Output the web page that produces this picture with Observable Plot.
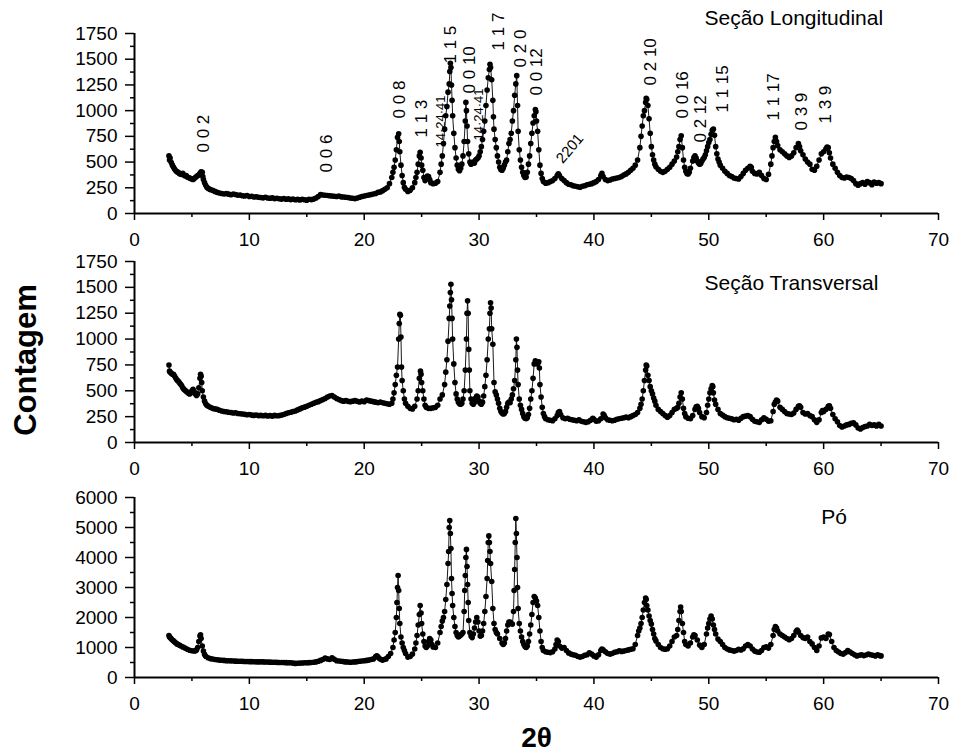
<!DOCTYPE html>
<html><head><meta charset="utf-8">
<script src="https://cdn.jsdelivr.net/npm/d3@7"></script>
<script src="https://cdn.jsdelivr.net/npm/@observablehq/plot@0.6"></script>
<style>
body{margin:0;background:#fff;}
#chart{position:relative;width:953px;height:755px;font-family:Arial,"Liberation Sans",sans-serif;}
#chart svg{position:absolute;left:0;overflow:visible;}
</style></head><body><div id="chart"></div>
<script>
// ---- tick values ----
const xTicks = [0,10,20,30,40,50,60,70];
const xMinor = [5,15,25,35,45,55,65];
const yTicksSec = [0,250,500,750,1000,1250,1500,1750];
const yMinorSec = [125,375,625,875,1125,1375,1625];
const yTicksPo = [0,1000,2000,3000,4000,5000,6000];
const yMinorPo = [500,1500,2500,3500,4500,5500];

// ---- panel titles ----
const titles = ["Seção Longitudinal","Seção Transversal","Pó"];

// ---- hkl labels (panel 1) ----
const hklText = ["0 0 2","0 0 6","0 0 8","1 1 3","1 1 5","0 0 10","1 1 7","0 2 0","0 0 12","0 2 10","0 0 16","0 2 12","1 1 15","1 1 17","0 3 9","1 3 9"];
const hklX    = [6.04,16.7,23.1,24.96,27.5,29.2,31.7,33.6,35.0,44.9,47.7,49.3,51.2,55.65,58.1,60.2];
const hklY    = [593,399,924,739,1458,1167,1585,1420,1147,1245,924,690,982,904,807,875];
const smallText = ["14·24·41","14·24·41"];
const smallX = [26.7,30.0];
const smallY = [642,710];
const diagText = ["2201"];
const diagX = [37.9];
const diagY = [632];

// ---- data: [2θ, contagem] ----
const longitudinal = [[3.0,560],[3.05,520],[3.1,540],[3.2,495],[3.3,470],[3.4,450],[3.5,430],[3.6,415],[3.7,405],[3.8,400],[3.9,390],[4.0,385],[4.1,380],[4.2,390],[4.3,375],[4.4,365],[4.5,370],[4.6,355],[4.7,350],[4.8,345],[4.9,340],[5.0,335],[5.1,330],[5.2,340],[5.3,350],[5.4,360],[5.5,370],[5.6,375],[5.7,390],[5.8,405],[5.9,400],[5.95,360],[6.0,330],[6.1,300],[6.2,275],[6.3,255],[6.4,245],[6.5,238],[6.6,232],[6.8,225],[7.0,215],[7.2,205],[7.4,200],[7.6,195],[7.8,190],[8.0,195],[8.2,188],[8.4,182],[8.6,190],[8.8,185],[9.0,178],[9.2,180],[9.4,172],[9.6,170],[9.8,175],[10.0,165],[10.2,168],[10.4,160],[10.6,163],[10.8,158],[11.0,155],[11.2,152],[11.4,158],[11.6,150],[11.8,148],[12.0,152],[12.2,145],[12.4,148],[12.6,143],[12.8,140],[13.0,146],[13.2,138],[13.4,142],[13.6,135],[13.8,140],[14.0,133],[14.2,137],[14.4,132],[14.6,138],[14.8,134],[15.0,130],[15.2,138],[15.4,135],[15.6,140],[15.8,150],[16.0,165],[16.2,185],[16.4,180],[16.6,178],[16.8,175],[17.0,172],[17.2,170],[17.4,168],[17.6,165],[17.8,170],[18.0,162],[18.2,160],[18.4,158],[18.6,155],[18.8,150],[19.0,148],[19.2,145],[19.4,150],[19.6,158],[19.8,165],[20.0,170],[20.2,175],[20.4,180],[20.6,185],[20.8,190],[21.0,195],[21.2,205],[21.4,210],[21.6,222],[21.8,235],[22.0,250],[22.2,290],[22.4,350],[22.5,400],[22.6,450],[22.7,520],[22.8,620],[22.9,740],[23.0,775],[23.05,700],[23.1,600],[23.2,470],[23.3,370],[23.4,300],[23.5,255],[23.6,235],[23.8,215],[24.0,225],[24.2,250],[24.4,300],[24.5,350],[24.6,400],[24.7,480],[24.8,560],[24.87,595],[24.95,540],[25.0,470],[25.1,420],[25.2,350],[25.3,320],[25.4,340],[25.5,365],[25.6,360],[25.7,330],[25.8,300],[26.0,290],[26.2,295],[26.4,310],[26.6,400],[26.7,480],[26.8,560],[26.9,680],[27.0,820],[27.1,950],[27.2,1040],[27.3,1180],[27.4,1260],[27.45,1380],[27.5,1460],[27.55,1420],[27.6,1250],[27.65,1100],[27.7,950],[27.8,780],[27.9,640],[28.0,540],[28.1,470],[28.2,430],[28.3,415],[28.4,440],[28.5,480],[28.6,560],[28.7,700],[28.8,900],[28.85,1080],[28.9,1000],[28.95,850],[29.0,700],[29.1,580],[29.2,500],[29.3,480],[29.4,495],[29.5,500],[29.6,490],[29.7,520],[29.8,530],[29.9,540],[30.0,560],[30.1,600],[30.2,650],[30.3,720],[30.4,800],[30.5,900],[30.6,1050],[30.7,1200],[30.8,1320],[30.9,1400],[30.95,1450],[31.0,1420],[31.1,1300],[31.2,1100],[31.25,940],[31.3,820],[31.4,720],[31.5,640],[31.6,560],[31.7,500],[31.8,450],[31.9,425],[32.0,420],[32.1,440],[32.2,470],[32.3,500],[32.4,520],[32.5,600],[32.6,680],[32.7,720],[32.8,780],[32.9,900],[33.0,1000],[33.1,1150],[33.2,1260],[33.28,1340],[33.35,1050],[33.4,800],[33.5,620],[33.6,520],[33.7,450],[33.8,400],[33.9,370],[34.0,350],[34.1,355],[34.2,400],[34.3,480],[34.4,560],[34.5,680],[34.6,780],[34.7,880],[34.8,950],[34.9,1010],[34.95,990],[35.0,900],[35.1,800],[35.2,620],[35.3,470],[35.4,390],[35.5,340],[35.6,310],[35.8,295],[36.0,300],[36.2,310],[36.4,320],[36.6,340],[36.8,370],[36.9,385],[37.0,370],[37.2,340],[37.4,320],[37.6,300],[37.8,285],[38.0,280],[38.2,270],[38.4,265],[38.6,260],[38.8,255],[39.0,265],[39.2,270],[39.4,280],[39.6,285],[39.8,290],[40.0,300],[40.2,310],[40.4,330],[40.6,370],[40.7,390],[40.8,360],[41.0,330],[41.2,320],[41.4,325],[41.6,335],[41.8,340],[42.0,345],[42.2,350],[42.4,360],[42.6,375],[42.8,385],[43.0,400],[43.2,420],[43.4,440],[43.6,470],[43.8,520],[44.0,640],[44.1,750],[44.2,850],[44.3,950],[44.4,1000],[44.5,1080],[44.55,1120],[44.6,1110],[44.7,1050],[44.8,920],[44.9,780],[45.0,650],[45.1,570],[45.2,520],[45.3,480],[45.4,455],[45.6,430],[45.8,410],[46.0,400],[46.2,410],[46.4,430],[46.6,450],[46.8,480],[47.0,510],[47.2,550],[47.3,600],[47.4,650],[47.5,720],[47.6,755],[47.7,640],[47.8,520],[47.9,450],[48.0,410],[48.1,390],[48.2,385],[48.3,400],[48.4,440],[48.6,510],[48.7,545],[48.8,560],[48.9,540],[49.0,510],[49.1,490],[49.2,480],[49.3,485],[49.4,510],[49.5,530],[49.6,545],[49.7,570],[49.8,610],[49.9,650],[50.0,690],[50.1,720],[50.2,770],[50.3,810],[50.4,820],[50.5,760],[50.6,650],[50.7,580],[50.8,530],[50.9,500],[51.0,470],[51.2,440],[51.4,410],[51.6,390],[51.8,370],[52.0,360],[52.2,345],[52.4,340],[52.6,335],[52.8,360],[53.0,390],[53.2,420],[53.4,440],[53.6,460],[53.7,450],[53.8,410],[54.0,390],[54.2,385],[54.4,400],[54.6,370],[54.8,340],[55.0,330],[55.2,380],[55.4,480],[55.5,560],[55.6,640],[55.7,700],[55.8,740],[55.9,700],[56.0,660],[56.2,620],[56.4,600],[56.6,580],[56.8,560],[57.0,545],[57.2,560],[57.4,590],[57.6,640],[57.8,680],[57.9,650],[58.0,610],[58.2,570],[58.4,530],[58.6,500],[58.8,480],[59.0,430],[59.2,420],[59.4,460],[59.6,520],[59.8,580],[60.0,600],[60.2,630],[60.3,645],[60.4,640],[60.5,590],[60.6,540],[60.8,480],[61.0,440],[61.2,400],[61.4,370],[61.6,350],[61.8,345],[62.0,355],[62.2,350],[62.4,340],[62.6,320],[62.8,290],[63.0,275],[63.2,290],[63.4,300],[63.6,285],[63.8,310],[64.0,300],[64.2,280],[64.4,305],[64.6,295],[64.8,300],[65.0,290]];

const transversal = [[3.0,750],[3.05,690],[3.1,680],[3.2,670],[3.3,660],[3.4,660],[3.5,640],[3.6,620],[3.7,605],[3.8,595],[3.9,580],[4.0,565],[4.1,550],[4.2,530],[4.3,515],[4.4,505],[4.5,495],[4.6,485],[4.7,475],[4.8,470],[4.9,480],[5.0,500],[5.1,515],[5.2,490],[5.3,470],[5.4,455],[5.5,470],[5.6,530],[5.7,620],[5.75,660],[5.8,640],[5.85,580],[5.9,500],[6.0,440],[6.1,400],[6.2,375],[6.3,360],[6.4,352],[6.6,340],[6.8,330],[7.0,325],[7.2,320],[7.4,312],[7.6,305],[7.8,300],[8.0,298],[8.2,292],[8.4,290],[8.6,285],[8.8,288],[9.0,280],[9.2,278],[9.4,275],[9.6,272],[9.8,268],[10.0,270],[10.2,265],[10.4,262],[10.6,266],[10.8,260],[11.0,262],[11.2,258],[11.4,262],[11.6,256],[11.8,260],[12.0,255],[12.2,262],[12.4,258],[12.6,260],[12.8,265],[13.0,270],[13.2,280],[13.4,288],[13.6,292],[13.8,300],[14.0,305],[14.2,315],[14.4,325],[14.6,335],[14.8,342],[15.0,350],[15.2,360],[15.4,370],[15.6,380],[15.8,388],[16.0,395],[16.2,405],[16.4,415],[16.6,425],[16.8,440],[17.0,450],[17.2,455],[17.4,440],[17.6,425],[17.8,415],[18.0,405],[18.2,400],[18.4,405],[18.6,398],[18.8,395],[19.0,400],[19.2,405],[19.4,398],[19.6,392],[19.8,400],[20.0,395],[20.2,410],[20.4,405],[20.6,400],[20.8,395],[21.0,390],[21.2,385],[21.4,390],[21.6,385],[21.8,380],[22.0,375],[22.2,370],[22.4,380],[22.5,420],[22.6,480],[22.7,560],[22.8,650],[22.9,730],[23.0,1000],[23.05,1150],[23.1,1240],[23.15,1230],[23.2,1020],[23.25,730],[23.3,600],[23.4,500],[23.5,420],[23.6,380],[23.8,350],[24.0,330],[24.2,325],[24.4,350],[24.6,420],[24.7,500],[24.8,620],[24.9,690],[24.95,660],[25.0,580],[25.1,500],[25.2,420],[25.3,360],[25.4,340],[25.6,330],[25.8,330],[26.0,335],[26.2,340],[26.4,360],[26.6,420],[26.8,460],[27.0,560],[27.1,680],[27.2,800],[27.3,980],[27.4,1200],[27.45,1320],[27.5,1450],[27.55,1530],[27.6,1380],[27.65,1200],[27.7,1000],[27.8,760],[27.9,580],[28.0,470],[28.1,420],[28.2,390],[28.3,375],[28.4,370],[28.5,380],[28.6,420],[28.7,500],[28.8,700],[28.9,1000],[28.95,1250],[29.0,1370],[29.05,1250],[29.1,900],[29.15,700],[29.2,500],[29.3,420],[29.4,380],[29.5,370],[29.6,390],[29.7,430],[29.8,450],[29.9,440],[30.0,400],[30.1,380],[30.2,370],[30.3,390],[30.4,450],[30.5,540],[30.6,650],[30.7,800],[30.8,1000],[30.9,1100],[30.95,1250],[31.0,1350],[31.05,1300],[31.1,1100],[31.2,950],[31.3,580],[31.4,490],[31.5,460],[31.6,420],[31.7,380],[31.8,330],[31.9,300],[32.0,285],[32.1,275],[32.2,280],[32.3,300],[32.4,340],[32.5,380],[32.6,390],[32.7,385],[32.8,420],[32.9,460],[33.0,520],[33.1,600],[33.2,800],[33.25,1000],[33.3,920],[33.35,700],[33.4,560],[33.5,420],[33.6,360],[33.7,320],[33.8,280],[33.9,250],[34.0,235],[34.1,230],[34.2,240],[34.3,270],[34.4,330],[34.5,420],[34.6,500],[34.7,620],[34.8,760],[34.9,790],[35.0,770],[35.1,760],[35.2,780],[35.25,720],[35.3,560],[35.4,440],[35.5,340],[35.6,280],[35.7,250],[35.8,230],[36.0,220],[36.2,215],[36.4,210],[36.6,230],[36.8,260],[36.9,290],[37.0,300],[37.1,270],[37.3,240],[37.5,230],[37.7,235],[37.9,225],[38.1,220],[38.3,215],[38.5,210],[38.7,220],[38.9,205],[39.1,200],[39.3,195],[39.5,200],[39.7,215],[39.9,235],[40.0,225],[40.2,205],[40.4,210],[40.6,230],[40.8,275],[40.9,260],[41.0,240],[41.2,220],[41.4,215],[41.6,210],[41.8,215],[42.0,225],[42.2,230],[42.4,235],[42.6,240],[42.8,245],[43.0,240],[43.2,250],[43.4,260],[43.6,270],[43.8,290],[44.0,330],[44.1,370],[44.2,420],[44.3,500],[44.4,600],[44.5,700],[44.55,750],[44.6,740],[44.7,650],[44.8,600],[44.9,540],[45.0,500],[45.1,470],[45.2,430],[45.3,400],[45.4,360],[45.6,320],[45.8,300],[46.0,280],[46.2,260],[46.4,245],[46.6,260],[46.8,290],[47.0,320],[47.2,330],[47.3,340],[47.4,380],[47.5,440],[47.6,480],[47.7,420],[47.8,330],[47.9,280],[48.0,250],[48.2,235],[48.4,230],[48.6,260],[48.8,320],[48.9,345],[49.0,350],[49.1,330],[49.2,290],[49.4,250],[49.6,240],[49.8,290],[49.9,360],[50.0,420],[50.1,480],[50.2,520],[50.3,550],[50.35,540],[50.4,480],[50.5,410],[50.6,370],[50.8,320],[51.0,280],[51.2,265],[51.4,250],[51.6,240],[51.8,235],[52.0,228],[52.2,220],[52.4,225],[52.6,215],[52.8,235],[53.0,250],[53.2,255],[53.4,260],[53.6,250],[53.8,225],[54.0,205],[54.2,200],[54.4,195],[54.6,220],[54.8,240],[55.0,225],[55.2,205],[55.4,210],[55.6,300],[55.7,370],[55.8,390],[55.9,410],[56.0,400],[56.2,340],[56.4,320],[56.6,300],[56.8,280],[57.0,275],[57.2,270],[57.4,285],[57.6,320],[57.8,350],[57.9,355],[58.0,340],[58.2,290],[58.4,275],[58.6,280],[58.8,260],[59.0,250],[59.2,220],[59.4,195],[59.6,220],[59.8,290],[59.9,310],[60.0,300],[60.2,320],[60.4,350],[60.5,355],[60.6,330],[60.8,270],[61.0,230],[61.2,200],[61.4,165],[61.6,150],[61.8,160],[62.0,170],[62.2,175],[62.4,185],[62.6,190],[62.8,170],[63.0,140],[63.2,130],[63.4,145],[63.6,155],[63.8,160],[64.0,175],[64.2,165],[64.4,170],[64.6,160],[64.8,175],[65.0,160]];

const po = [[3.0,1400],[3.05,1350],[3.1,1330],[3.2,1290],[3.3,1250],[3.4,1220],[3.5,1180],[3.6,1150],[3.7,1120],[3.8,1100],[3.9,1080],[4.0,1060],[4.2,1020],[4.4,980],[4.6,940],[4.8,910],[5.0,890],[5.2,885],[5.3,890],[5.4,920],[5.5,1000],[5.6,1200],[5.7,1380],[5.75,1420],[5.8,1300],[5.9,1050],[6.0,880],[6.1,770],[6.2,710],[6.4,660],[6.6,630],[6.8,615],[7.0,600],[7.2,590],[7.4,580],[7.6,575],[7.8,570],[8.0,560],[8.2,558],[8.4,555],[8.6,550],[8.8,545],[9.0,542],[9.2,540],[9.4,538],[9.6,535],[9.8,532],[10.0,530],[10.2,528],[10.4,525],[10.6,522],[10.8,520],[11.0,522],[11.2,520],[11.4,518],[11.6,515],[11.8,512],[12.0,510],[12.2,508],[12.4,505],[12.6,502],[12.8,500],[13.0,498],[13.2,495],[13.4,492],[13.6,490],[13.8,480],[14.0,470],[14.2,475],[14.4,480],[14.6,485],[14.8,490],[15.0,492],[15.2,495],[15.4,500],[15.6,510],[15.8,520],[16.0,540],[16.2,570],[16.4,600],[16.6,650],[16.8,620],[17.0,600],[17.2,660],[17.4,610],[17.6,560],[17.8,550],[18.0,540],[18.2,530],[18.4,520],[18.6,515],[18.8,510],[19.0,515],[19.2,520],[19.4,530],[19.6,540],[19.8,550],[20.0,560],[20.2,570],[20.4,580],[20.6,600],[20.8,620],[21.0,700],[21.1,720],[21.2,680],[21.3,640],[21.45,600],[21.6,580],[21.75,600],[21.9,620],[22.1,700],[22.3,800],[22.5,1000],[22.6,1250],[22.7,1500],[22.8,2000],[22.85,2500],[22.9,3000],[22.95,3400],[23.0,2900],[23.05,2300],[23.1,1800],[23.2,1350],[23.3,1150],[23.4,1000],[23.5,900],[23.6,800],[23.8,680],[24.0,700],[24.2,780],[24.4,950],[24.5,1150],[24.6,1400],[24.7,1750],[24.8,2100],[24.87,2400],[24.95,2150],[25.0,1800],[25.1,1450],[25.2,1200],[25.3,1050],[25.4,1000],[25.5,1050],[25.6,1200],[25.7,1300],[25.8,1250],[25.9,1100],[26.0,1020],[26.2,1000],[26.4,1150],[26.6,1500],[26.7,1700],[26.8,1880],[26.9,2000],[27.0,2200],[27.1,2600],[27.2,3100],[27.3,3800],[27.35,4200],[27.4,5000],[27.45,5230],[27.5,4800],[27.55,4300],[27.6,3300],[27.65,2800],[27.7,2400],[27.8,2000],[27.9,1700],[28.0,1500],[28.1,1400],[28.2,1350],[28.3,1380],[28.4,1420],[28.5,1450],[28.6,1500],[28.7,2200],[28.75,2900],[28.8,3400],[28.85,4000],[28.9,4270],[28.95,3700],[29.0,3100],[29.05,2500],[29.1,1900],[29.2,1500],[29.3,1380],[29.4,1330],[29.5,1450],[29.6,1650],[29.7,1850],[29.8,2000],[29.9,1850],[30.0,1550],[30.1,1380],[30.2,1400],[30.3,1550],[30.4,1800],[30.5,2200],[30.6,2700],[30.7,3300],[30.75,3900],[30.8,4500],[30.85,4720],[30.9,4500],[30.95,4200],[31.0,3800],[31.1,3200],[31.2,2300],[31.3,1800],[31.4,1600],[31.5,1500],[31.6,1450],[31.8,1300],[32.0,1150],[32.1,1100],[32.2,1150],[32.3,1300],[32.4,1550],[32.5,1750],[32.6,1850],[32.7,1850],[32.8,1800],[32.9,1780],[33.0,2200],[33.05,2900],[33.1,3600],[33.15,4500],[33.2,5300],[33.25,4800],[33.3,4000],[33.35,3000],[33.4,2300],[33.5,1800],[33.6,1550],[33.7,1350],[33.8,1200],[33.9,1100],[34.0,1030],[34.1,1000],[34.2,1050],[34.3,1200],[34.4,1450],[34.5,1750],[34.6,2100],[34.7,2500],[34.8,2700],[34.9,2650],[35.0,2550],[35.1,2400],[35.2,2000],[35.3,1550],[35.4,1200],[35.5,1000],[35.6,900],[35.8,860],[36.0,840],[36.2,830],[36.4,860],[36.6,950],[36.7,1100],[36.8,1250],[36.9,1200],[37.0,1050],[37.2,980],[37.4,1000],[37.6,900],[37.8,820],[38.0,780],[38.2,760],[38.4,740],[38.6,700],[38.8,680],[39.0,700],[39.2,740],[39.4,760],[39.6,820],[39.8,780],[40.0,720],[40.2,680],[40.4,760],[40.6,900],[40.7,950],[40.8,920],[41.0,860],[41.2,800],[41.4,780],[41.6,800],[41.8,840],[42.0,860],[42.2,890],[42.4,870],[42.6,880],[42.8,900],[43.0,920],[43.2,940],[43.4,960],[43.6,1100],[43.8,1400],[43.9,1550],[44.0,1650],[44.1,1800],[44.2,2000],[44.3,2250],[44.4,2500],[44.5,2650],[44.55,2600],[44.6,2400],[44.7,2250],[44.8,2050],[44.9,1900],[45.0,1780],[45.1,1600],[45.2,1450],[45.3,1300],[45.4,1220],[45.6,1100],[45.8,1000],[46.0,960],[46.2,940],[46.4,960],[46.6,1050],[46.8,1200],[47.0,1350],[47.2,1400],[47.3,1600],[47.4,1900],[47.5,2200],[47.55,2350],[47.6,2200],[47.7,1800],[47.8,1500],[47.9,1200],[48.0,1100],[48.2,1050],[48.4,1150],[48.6,1350],[48.7,1420],[48.8,1400],[49.0,1250],[49.2,1080],[49.4,1000],[49.6,1100],[49.8,1450],[49.9,1650],[50.0,1800],[50.1,1950],[50.2,2050],[50.3,1950],[50.4,1750],[50.5,1600],[50.6,1450],[50.8,1280],[51.0,1200],[51.2,1100],[51.4,1000],[51.6,950],[51.8,920],[52.0,900],[52.2,880],[52.4,900],[52.6,940],[52.8,920],[53.0,960],[53.2,1050],[53.4,1100],[53.6,1050],[53.8,950],[54.0,880],[54.2,850],[54.4,840],[54.6,900],[54.8,1000],[55.0,1020],[55.2,980],[55.4,1100],[55.6,1400],[55.7,1600],[55.8,1700],[55.9,1650],[56.0,1550],[56.2,1450],[56.4,1400],[56.6,1350],[56.8,1300],[57.0,1260],[57.2,1300],[57.4,1400],[57.6,1530],[57.7,1580],[57.8,1520],[58.0,1400],[58.2,1330],[58.4,1300],[58.6,1350],[58.8,1200],[59.0,1120],[59.2,1000],[59.4,900],[59.6,1050],[59.8,1320],[60.0,1350],[60.2,1300],[60.4,1450],[60.5,1430],[60.7,1200],[60.9,1000],[61.1,900],[61.3,850],[61.5,800],[61.7,780],[61.9,830],[62.1,900],[62.3,850],[62.5,800],[62.7,760],[62.9,720],[63.1,740],[63.3,760],[63.5,730],[63.7,750],[63.9,780],[64.1,760],[64.3,740],[64.5,720],[64.7,760],[64.9,730],[65.0,720]];

const FONT = 'Arial, "Liberation Sans", sans-serif';
const plain = d => String(d);

function panel({data, yDomain, yTicks, yMinor, top, height, marginTop, marginBottom, extras}) {
  const svg = Plot.plot({
    width: 953, height, marginLeft: 134, marginRight: 15, marginTop, marginBottom,
    x: {domain: [0, 70]},
    y: {domain: yDomain},
    style: {fontFamily: FONT, fontSize: "19px", color: "#000", background: "none", overflow: "visible"},
    marks: [
      Plot.axisX(xTicks, {tickSize: 7, tickPadding: 12, strokeWidth: 1.5, fontSize: 19, tickFormat: plain, label: null}),
      Plot.axisX(xMinor, {tickSize: 4, text: null, strokeWidth: 1.5, label: null}),
      Plot.axisY(yTicks, {tickSize: 9, tickPadding: 8, strokeWidth: 1.5, fontSize: 19, tickFormat: plain, label: null}),
      Plot.axisY(yMinor, {tickSize: 4, text: null, strokeWidth: 1.5, label: null}),
      Plot.ruleX([0], {stroke: "#000", strokeWidth: 2}),
      Plot.ruleY([0], {stroke: "#000", strokeWidth: 2}),
      Plot.line(data, {x: d => d[0], y: d => d[1], stroke: "#000", strokeWidth: 0.9}),
      Plot.dot(data, {x: d => d[0], y: d => d[1], r: 2.8, fill: "#000"}),
      ...extras
    ]
  });
  svg.style.top = top + "px";
  document.getElementById("chart").appendChild(svg);
}

// Panel 1 — Seção Longitudinal
panel({
  data: longitudinal, yDomain: [0, 1750], yTicks: yTicksSec, yMinor: yMinorSec,
  top: 0, height: 250, marginTop: 33, marginBottom: 37,
  extras: [
    Plot.text(hklText, {x: (d, i) => hklX[i], y: (d, i) => hklY[i], text: d => d, rotate: -90, textAnchor: "start", lineAnchor: "middle", fontSize: 17, fill: "#000"}),
    Plot.text(smallText, {x: (d, i) => smallX[i], y: (d, i) => smallY[i], text: d => d, rotate: -90, textAnchor: "start", lineAnchor: "middle", fontSize: 13, fill: "#000"}),
    Plot.text(diagText, {x: (d, i) => diagX[i], y: (d, i) => diagY[i], text: d => d, rotate: -50, textAnchor: "middle", lineAnchor: "middle", fontSize: 15, fill: "#000"}),
    Plot.text([titles[0]], {x: 57.4, y: 1896, text: d => d, textAnchor: "middle", lineAnchor: "middle", fontSize: 21, fill: "#000"})
  ]
});

// Panel 2 — Seção Transversal
panel({
  data: transversal, yDomain: [0, 1750], yTicks: yTicksSec, yMinor: yMinorSec,
  top: 230, height: 245, marginTop: 31, marginBottom: 33,
  extras: [
    Plot.text([titles[1]], {x: 57.2, y: 1542, text: d => d, textAnchor: "middle", lineAnchor: "middle", fontSize: 21, fill: "#000"}),
    Plot.text(["Contagem"], {frameAnchor: "left", dx: -108, dy: 8, text: d => d, rotate: -90, textAnchor: "middle", lineAnchor: "middle", fontSize: 31, fontWeight: "bold", fill: "#000"})
  ]
});

// Panel 3 — Pó
panel({
  data: po, yDomain: [0, 6000], yTicks: yTicksPo, yMinor: yMinorPo,
  top: 475, height: 280, marginTop: 22, marginBottom: 78,
  extras: [
    Plot.text([titles[2]], {x: 60.9, y: 5340, text: d => d, textAnchor: "middle", lineAnchor: "middle", fontSize: 21, fill: "#000"}),
    Plot.text(["2θ"], {frameAnchor: "bottom", dy: 61, text: d => d, textAnchor: "middle", lineAnchor: "middle", fontSize: 28, fontWeight: "bold", fill: "#000"})
  ]
});
</script></body></html>
